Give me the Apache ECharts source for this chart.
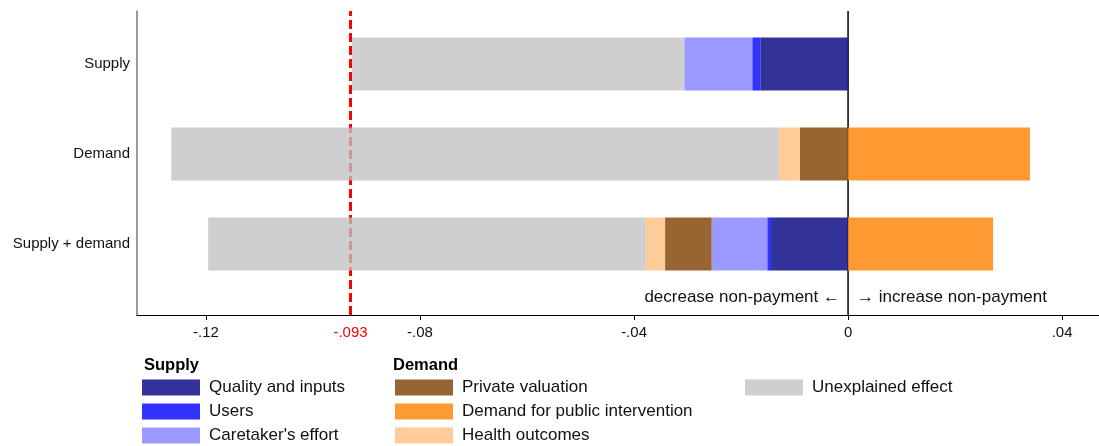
<!DOCTYPE html>
<html>
<head>
<meta charset="utf-8">
<script src="https://cdn.jsdelivr.net/npm/echarts@6/dist/echarts.min.js"></script>
<style>html,body{margin:0;padding:0;background:#fff;}#c{width:1099px;height:446px;}</style>
</head>
<body>
<div id="c"></div>
<script>
const categories = ['Supply', 'Demand', 'Supply + demand'];
const qualityInputs   = [-0.0164, null, -0.0144];
const users           = [-0.0015, null, -0.0007];
const caretakerEffort = [-0.0127, null, -0.0104];
const privateValuation= [null, -0.0090, -0.0087];
const healthOutcomes  = [null, -0.0039, -0.0036];
const unexplained     = [-0.0621, -0.1136, -0.0818];
const publicDemand    = [null, 0.0340, 0.0271];
const tickValues  = [-0.12, -0.08, -0.04, 0, 0.04];
const tickLabels  = ['-.12', '-.08', '-.04', '0', '.04'];
const refValue = -0.093;
const refLabel = '-.093';
const xMin = -0.1329, xMax = 0.0469;

const FONT = 'Liberation Sans, Arial, Helvetica, sans-serif';
const chart = echarts.init(document.getElementById('c'), null, {renderer: 'canvas'});

function barSeries(name, data, color, opacity) {
  return {
    name: name, type: 'bar', stack: 'total', data: data,
    xAxisIndex: 1, yAxisIndex: 1, barWidth: 53, z: 3,
    itemStyle: {color: color, opacity: opacity},
    emphasis: {disabled: true}, animation: false
  };
}
function vline(x, color, width, type) {
  return {
    type: 'line', xAxisIndex: 0, yAxisIndex: 0, z: 1, silent: true,
    data: [[x, 0], [x, 1]], symbol: 'none', animation: false,
    lineStyle: {color: color, width: width, type: type}
  };
}

const labelVals = tickValues.concat([refValue]);
function fmt(v) {
  if (Math.abs(v - refValue) < 1e-9) return '{r|' + refLabel + '}';
  for (let i = 0; i < tickValues.length; i++) if (Math.abs(v - tickValues[i]) < 1e-9) return tickLabels[i];
  return '';
}
const legendText = {fontSize: 17, color: '#111', fontFamily: FONT, padding: [0, 0, 0, 4], lineHeight: 16};

const option = {
  animation: false,
  textStyle: {fontFamily: FONT},
  grid: [
    {left: 137, right: 0, top: 11, bottom: 131},
    {left: 137, right: 0, top: 19, bottom: 157}
  ],
  xAxis: [
    {
      type: 'value', gridIndex: 0, min: xMin, max: xMax,
      axisLine: {show: true, onZero: false, lineStyle: {color: '#000', width: 1}},
      axisTick: {show: true, length: 5, lineStyle: {color: '#000'}, customValues: tickValues},
      axisLabel: {
        show: true, customValues: labelVals, formatter: fmt, margin: 10,
        color: '#111', fontSize: 15, fontFamily: FONT,
        rich: {r: {color: '#ff0000', fontSize: 15, fontFamily: FONT}}
      },
      splitLine: {show: false}
    },
    {
      type: 'value', gridIndex: 1, min: xMin, max: xMax, show: false,
      splitLine: {show: false}
    }
  ],
  yAxis: [
    {
      type: 'value', gridIndex: 0, min: 0, max: 1,
      axisLine: {show: true, onZero: false, lineStyle: {color: '#777', width: 1.5}},
      axisTick: {show: false}, axisLabel: {show: false}, splitLine: {show: false}
    },
    {
      type: 'category', gridIndex: 1, data: categories, inverse: true,
      axisLine: {show: false}, axisTick: {show: false},
      axisLabel: {color: '#111', fontSize: 15, fontFamily: FONT, margin: 7},
      splitLine: {show: false}
    }
  ],
  legend: [
    {
      left: 142, top: 379, orient: 'vertical', itemWidth: 58, itemHeight: 16, itemGap: 7,
      icon: 'rect', padding: 0, selectedMode: false, textStyle: legendText,
      data: ['Quality and inputs', 'Users', "Caretaker's effort"]
    },
    {
      left: 395, top: 379, orient: 'vertical', itemWidth: 58, itemHeight: 16, itemGap: 7,
      icon: 'rect', padding: 0, selectedMode: false, textStyle: legendText,
      data: ['Private valuation', 'Demand for public intervention', 'Health outcomes']
    },
    {
      left: 745, top: 379, orient: 'vertical', itemWidth: 58, itemHeight: 16, itemGap: 7,
      icon: 'rect', padding: 0, selectedMode: false, textStyle: legendText,
      data: ['Unexplained effect']
    }
  ],
  graphic: [
    {type: 'text', left: 144, top: 357, style: {text: 'Supply', font: 'bold 16.5px ' + FONT, fill: '#000'}},
    {type: 'text', left: 393, top: 357, style: {text: 'Demand', font: 'bold 16.5px ' + FONT, fill: '#000'}},
    {type: 'text', right: 1099 - 840, top: 289, style: {text: 'decrease non-payment \u2190', font: '17px ' + FONT, fill: '#111'}},
    {type: 'text', left: 857, top: 289, style: {text: '\u2192 increase non-payment', font: '17px ' + FONT, fill: '#111'}}
  ],
  series: [
    vline(0, '#000', 1.5, 'solid'),
    vline(refValue, '#ff0000', 3, [9, 4]),
    barSeries('Quality and inputs', qualityInputs, 'rgb(28,28,142)', 0.9),
    barSeries('Users', users, 'rgb(28,28,255)', 0.9),
    barSeries("Caretaker's effort", caretakerEffort, 'rgb(142,142,255)', 0.9),
    barSeries('Private valuation', privateValuation, 'rgb(139,84,28)', 0.9),
    barSeries('Health outcomes', healthOutcomes, 'rgb(255,198,142)', 0.9),
    barSeries('Unexplained effect', unexplained, 'rgb(192,192,192)', 0.77),
    barSeries('Demand for public intervention', publicDemand, 'rgb(255,142,28)', 0.9)
  ]
};
chart.setOption(option);
</script>
</body>
</html>
